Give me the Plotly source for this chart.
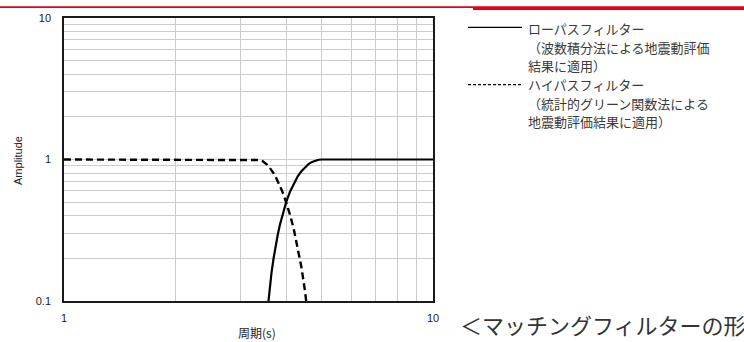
import plotly.graph_objects as go

# ---- data ----
lowpass_period = [3.55, 3.60, 3.65, 3.70, 3.75, 3.80, 3.85, 3.90, 3.95, 4.00,
                  4.10, 4.20, 4.30, 4.40, 4.50, 4.60, 4.70, 4.80, 4.90, 5.00, 10.0]
lowpass_amp = [0.080, 0.117, 0.158, 0.202, 0.250, 0.299, 0.349, 0.400, 0.450, 0.500,
               0.595, 0.683, 0.760, 0.827, 0.883, 0.928, 0.962, 0.983, 0.996, 1.000, 1.000]

highpass_period = [1.0, 3.33, 3.40, 3.45, 3.50, 3.55, 3.60, 3.65, 3.70, 3.75, 3.80,
                   3.85, 3.90, 3.95, 4.00, 4.10, 4.20, 4.30, 4.40, 4.50, 4.55, 4.60]
highpass_amp = [1.000, 1.000, 0.991, 0.976, 0.950, 0.920, 0.883, 0.842, 0.798, 0.750, 0.701,
                0.650, 0.600, 0.550, 0.500, 0.405, 0.317, 0.240, 0.173, 0.117, 0.094, 0.072]

x_tick_vals = [1, 2, 3, 4, 5, 6, 7, 8, 9, 10]
x_tick_text = ["1", "", "", "", "", "", "", "", "", "10"]
y_tick_vals = [0.1, 0.2, 0.3, 0.4, 0.5, 0.6, 0.7, 0.8, 0.9,
               1, 2, 3, 4, 5, 6, 7, 8, 9, 10]
y_tick_text = ["0.1", "", "", "", "", "", "", "", "",
               "1", "", "", "", "", "", "", "", "", "10"]

x_title = "周期(s)"
y_title = "Amplitude"
legend_lines_low = ["ローパスフィルター", "（波数積分法による地震動評価", "結果に適用）"]
legend_lines_high = ["ハイパスフィルター", "（統計的グリーン関数法による", "地震動評価結果に適用）"]
caption = "＜マッチングフィルターの形状＞"

# ---- figure ----
W, H = 744, 342
L, R, T, B = 64, 311, 12, 41
pw, ph = W - L - R, H - T - B


def px_x(p):
    return (p - L) / pw


def px_y(p):
    return (H - B - p) / ph


JP = "Noto Sans CJK JP"
NUM = "Liberation Sans, Arial, sans-serif"

fig = go.Figure()
fig.add_trace(go.Scatter(x=highpass_period, y=highpass_amp, mode="lines",
                         line=dict(color="black", width=2.4, dash="7px,4px"),
                         name="ハイパスフィルター", showlegend=False, hoverinfo="skip"))
fig.add_trace(go.Scatter(x=lowpass_period, y=lowpass_amp, mode="lines",
                         line=dict(color="black", width=2.2),
                         name="ローパスフィルター", showlegend=False, hoverinfo="skip"))

axis_common = dict(type="log", showgrid=True, gridcolor="#cccccc", gridwidth=1,
                   showline=True, linecolor="#1a1a1a", linewidth=1.5, mirror=True,
                   zeroline=False, ticks="outside", tickcolor="rgba(0,0,0,0)",
                   tickfont=dict(family=NUM, size=11, color="#222"))

fig.update_xaxes(range=[0, 1], tickmode="array", tickvals=x_tick_vals,
                 ticktext=x_tick_text, ticklen=6, **axis_common)
fig.update_yaxes(range=[-1, 1], tickmode="array", tickvals=y_tick_vals,
                 ticktext=y_tick_text, ticklen=9, **axis_common)

annotations = []
# axis titles
annotations.append(dict(x=px_x(257), y=px_y(333), xref="paper", yref="paper",
                        text=x_title, showarrow=False,
                        font=dict(family=JP, size=12, color="#222"),
                        xanchor="center", yanchor="middle"))
annotations.append(dict(x=px_x(18), y=px_y(158), xref="paper", yref="paper",
                        text=y_title, showarrow=False, textangle=-90,
                        font=dict(family=NUM, size=11, color="#222"),
                        xanchor="center", yanchor="middle"))

# legend text
leg_font = dict(family=JP, size=13, color="#3a3a3a")
low_ys = [23, 42, 61]
high_ys = [80, 99, 118]
for txt, yy in zip(legend_lines_low, low_ys):
    annotations.append(dict(x=px_x(527), y=px_y(yy), xref="paper", yref="paper",
                            text=txt, showarrow=False, font=leg_font, borderpad=0,
                            xanchor="left", yanchor="middle"))
for txt, yy in zip(legend_lines_high, high_ys):
    annotations.append(dict(x=px_x(527), y=px_y(yy), xref="paper", yref="paper",
                            text=txt, showarrow=False, font=leg_font, borderpad=0,
                            xanchor="left", yanchor="middle"))

# caption
annotations.append(dict(x=px_x(458), y=px_y(324), xref="paper", yref="paper",
                        text=caption, showarrow=False,
                        font=dict(family=JP, size=22, color="#333"),
                        xanchor="left", yanchor="middle"))

shapes = [
    # legend samples
    dict(type="line", xref="paper", yref="paper", x0=px_x(468), x1=px_x(522),
         y0=px_y(21.5), y1=px_y(21.5), line=dict(color="black", width=1.3)),
    dict(type="line", xref="paper", yref="paper", x0=px_x(468), x1=px_x(522),
         y0=px_y(80), y1=px_y(80), line=dict(color="black", width=1.1, dash="3px,2px")),
    # red header bar
    dict(type="rect", xref="paper", yref="paper", x0=px_x(0), x1=px_x(473),
         y0=px_y(1.8), y1=px_y(0), line=dict(width=0), fillcolor="#e2001a"),
    dict(type="rect", xref="paper", yref="paper", x0=px_x(473), x1=px_x(744),
         y0=px_y(3.8), y1=px_y(0), line=dict(width=0), fillcolor="#e2001a"),
]

fig.update_layout(width=W, height=H, margin=dict(l=L, r=R, t=T, b=B, pad=0),
                  paper_bgcolor="white", plot_bgcolor="white",
                  annotations=annotations, shapes=shapes, showlegend=False)

fig.write_html("out.html", config={"displayModeBar": False},
               post_script="document.body.style.margin='0';document.body.style.overflow='hidden';")
